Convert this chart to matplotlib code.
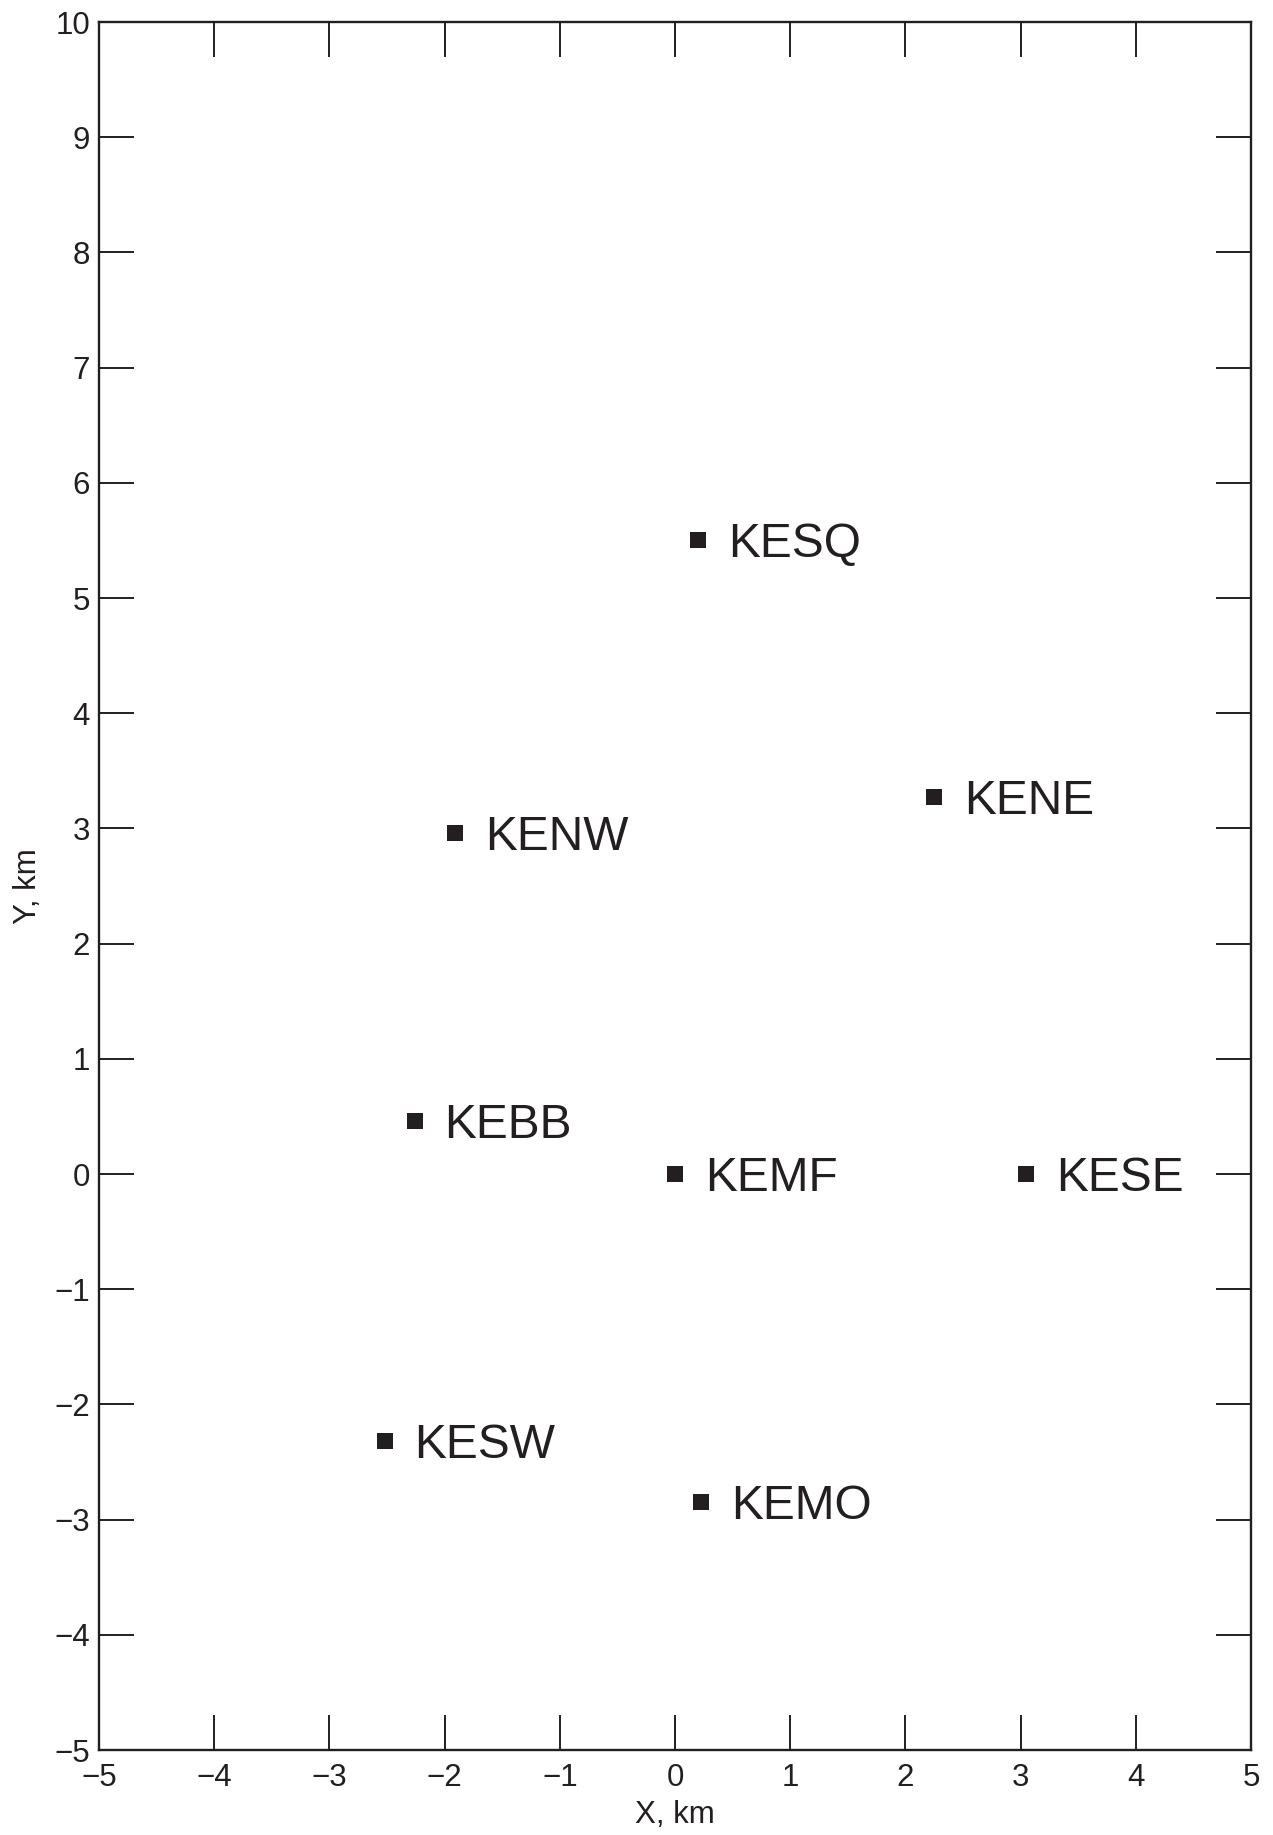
import numpy as np
import matplotlib.pyplot as plt
from matplotlib import rcParams

rcParams['font.family'] = ['Liberation Sans', 'DejaVu Sans']
rcParams['axes.unicode_minus'] = True

INK = '#231f20'

# Station coordinates (km)
stations = ['KESQ', 'KENE', 'KENW', 'KEBB', 'KEMF', 'KESE', 'KESW', 'KEMO']
x_km = [0.20, 2.25, -1.91, -2.26, 0.00, 3.05, -2.52, 0.23]
y_km = [5.50, 3.27, 2.96, 0.46, 0.00, 0.00, -2.32, -2.85]

x_ticks = list(range(-5, 6))
y_ticks = list(range(-5, 11))

fig = plt.figure(figsize=(12.73, 18.35), dpi=100)
ax = fig.add_axes([99 / 1273, 85 / 1835, 1152 / 1273, 1728 / 1835])

ax.plot(x_km, y_km, linestyle='none', marker='s', markersize=11.3,
        color=INK, markeredgewidth=0)
for name, xv, yv in zip(stations, x_km, y_km):
    ax.annotate(name, (xv, yv), xytext=(21.5, -12.2), textcoords='offset points',
                ha='left', va='baseline', fontsize=34.5, color=INK)

ax.set_xlim(-5, 5)
ax.set_ylim(-5, 10)
ax.set_xticks(x_ticks)
ax.set_yticks(y_ticks)
ax.tick_params(which='both', direction='in', length=25, width=1.4, color=INK,
               labelsize=22.5, labelcolor=INK, top=True, right=True)
ax.tick_params(axis='x', pad=9.5)
ax.tick_params(axis='y', pad=6.5)
for sp in ax.spines.values():
    sp.set_linewidth(1.7)
    sp.set_color(INK)

ax.set_xlabel('X, km', fontsize=22.5, color=INK, labelpad=5)
ax.set_ylabel('Y, km', fontsize=22.5, color=INK, labelpad=8)

fig.savefig('out.png', dpi=100)
